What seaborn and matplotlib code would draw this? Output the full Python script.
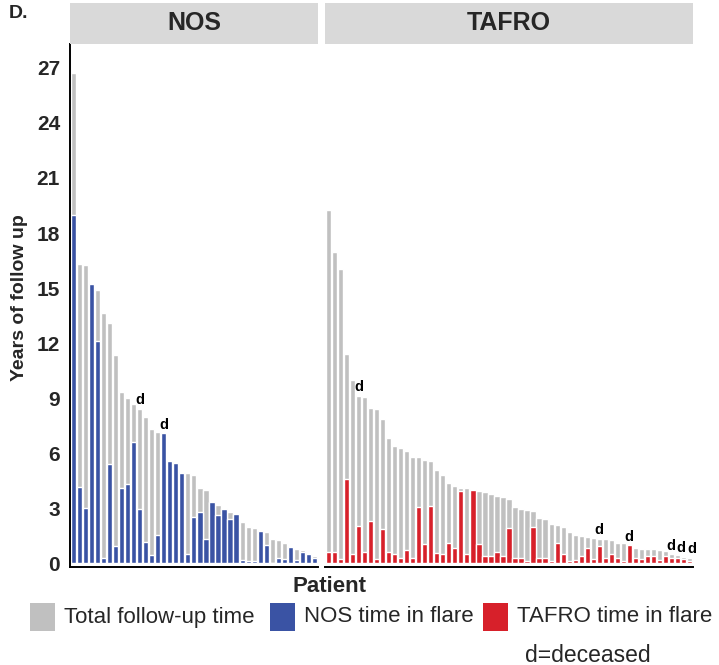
import matplotlib
matplotlib.use("Agg")
import matplotlib.pyplot as plt
from matplotlib.patches import Rectangle
import seaborn as sns
import pandas as pd

# ---- data (years) ----
nos_total = [26.73, 16.31, 16.25, 15.24, 14.91, 13.64, 13.09, 11.36, 9.36, 9.00,
             8.67, 8.42, 7.96, 7.33, 7.15, 7.10, 5.60, 5.45, 4.94, 4.90,
             4.80, 4.13, 3.99, 3.36, 3.16, 3.00, 2.79, 2.70, 2.25, 2.00,
             1.93, 1.76, 1.69, 1.32, 1.27, 1.09, 0.90, 0.80, 0.70, 0.55, 0.40]
nos_flare = [19.00, 4.18, 3.00, 15.24, 12.09, 0.31, 5.40, 0.96, 4.09, 4.33,
             6.63, 2.96, 1.14, 0.45, 1.55, 7.10, 5.60, 5.45, 4.94, 0.50,
             2.52, 2.79, 1.34, 3.36, 2.65, 2.94, 2.39, 2.70, 0.20, 0.15,
             0.15, 1.76, 1.00, 0.00, 0.30, 0.25, 0.90, 0.16, 0.64, 0.53, 0.31]
nos_deceased = [12, 16]

tafro_total = [19.23, 16.94, 16.03, 11.40, 9.98, 9.14, 9.08, 8.47, 8.40, 7.89,
               6.85, 6.38, 6.29, 6.14, 5.80, 5.78, 5.63, 5.59, 5.07, 4.79,
               4.40, 4.21, 4.12, 4.12, 4.05, 3.96, 3.89, 3.78, 3.67, 3.61,
               3.49, 3.08, 2.94, 2.91, 2.85, 2.48, 2.43, 2.14, 2.07, 1.99,
               1.73, 1.55, 1.51, 1.43, 1.40, 1.33, 1.30, 1.27, 1.12, 1.09,
               1.00, 0.85, 0.80, 0.76, 0.76, 0.70, 0.65, 0.50, 0.45, 0.35, 0.30]
tafro_flare = [0.64, 0.64, 0.22, 4.60, 0.49, 2.05, 0.64, 2.30, 0.22, 1.87,
               0.64, 0.53, 0.31, 0.75, 0.31, 3.05, 1.05, 3.12, 0.58, 0.49,
               1.09, 0.81, 3.94, 0.49, 4.00, 1.03, 0.40, 0.40, 0.64, 0.40,
               1.94, 0.27, 0.31, 0.13, 1.99, 0.27, 0.27, 0.13, 1.09, 0.49,
               0.13, 0.16, 0.40, 0.82, 0.22, 0.95, 0.31, 0.49, 0.27, 0.13,
               1.00, 0.31, 0.22, 0.40, 0.40, 0.16, 0.40, 0.31, 0.27, 0.22, 0.13]
tafro_deceased = [6, 46, 51, 58, 60, 61]

panel_names = ["NOS", "TAFRO"]
legend_labels = ["Total follow-up time", "NOS time in flare", "TAFRO time in flare"]
y_ticks = [0, 3, 6, 9, 12, 15, 18, 21, 24, 27]

GRAY = "#c0c0c0"
BLUE = "#3a53a4"
RED = "#d7202a"
STRIP = "#d9d9d9"

sns.set_style("white")
plt.rcParams["font.family"] = ["Liberation Sans", "DejaVu Sans"]

W, H = 719, 665
fig = plt.figure(figsize=(W / 100, H / 100), dpi=100)

ybot, ytop = 567, 44
panels = [
    (69.8, 318.0, nos_total, nos_flare, nos_deceased, BLUE, panel_names[0]),
    (325.0, 693.0, tafro_total, tafro_flare, tafro_deceased, RED, panel_names[1]),
]

for i, (x0, x1, tot, fl, dec, col, name) in enumerate(panels):
    ax = fig.add_axes([x0 / W, 1 - ybot / H, (x1 - x0) / W, (ybot - ytop) / H])
    n = len(tot)
    df = pd.DataFrame({"patient": list(range(1, n + 1)), "total": tot, "flare": fl})
    sns.barplot(data=df, x="patient", y="total", color=GRAY, saturation=1,
                width=0.86, errorbar=None, ax=ax)
    sns.barplot(data=df, x="patient", y="flare", color=col, saturation=1,
                width=0.86, errorbar=None, ax=ax)
    for d in dec:
        nudge = 0.0
        if d + 1 in dec:
            nudge = -0.45
        elif d - 1 in dec:
            nudge = 0.45
        ax.text(d - 1 + nudge, tot[d - 1] + 0.08, "d", ha="center", va="bottom",
                fontsize=10.5, fontweight="bold", color="black")
    ax.set_xlim(-0.6, n - 0.4)
    ax.set_ylim(-0.2, 28.3)
    ax.set_xlabel("")
    ax.set_ylabel("")
    ax.set_xticks(range(n))
    ax.set_xticklabels([])
    ax.tick_params(axis="x", length=4, width=0.8, color="#333333")
    for s in ["top", "right"]:
        ax.spines[s].set_visible(False)
    ax.spines["bottom"].set_color("black")
    ax.spines["bottom"].set_linewidth(1.4)
    if i == 0:
        ax.set_yticks(y_ticks)
        ax.set_yticklabels([str(t) for t in y_ticks], fontsize=15,
                           fontweight="bold")
        ax.tick_params(axis="y", length=4, width=1.2, color="black", pad=3)
        ax.spines["left"].set_color("black")
        ax.spines["left"].set_linewidth(1.4)
    else:
        ax.set_yticks([])
        ax.spines["left"].set_visible(False)
    # facet strip
    fig.patches.append(Rectangle((x0 / W, 1 - 44 / H), (x1 - x0) / W, 41 / H,
                                 transform=fig.transFigure, facecolor=STRIP,
                                 edgecolor="none"))
    fig.text((x0 + x1) / 2 / W, 1 - 23.5 / H, name, ha="center", va="center",
             fontsize=18, fontweight="bold")

fig.text(9 / W, 1 - 13 / H, "D.", ha="left", va="center", fontsize=14,
         fontweight="bold")
fig.text(20 / W, 1 - 298 / H, "Years of follow up", rotation=90, ha="center",
         va="center", fontsize=14, fontweight="bold")
fig.text(330 / W, 1 - 587 / H, "Patient", ha="center", va="center",
         fontsize=16, fontweight="bold")

# legend (drawn as key squares + labels)
legend_colors = [GRAY, BLUE, RED]
key_x = [30, 270, 483]
for kx, c, lab in zip(key_x, legend_colors, legend_labels):
    fig.patches.append(Rectangle((kx / W, 1 - 631 / H), 25 / W, 28 / H,
                                 transform=fig.transFigure, facecolor=c,
                                 edgecolor="none"))
    fig.text((kx + 34) / W, 1 - 617 / H, lab, ha="left", va="center", fontsize=16)
fig.text(588 / W, 1 - 655 / H, "d=deceased", ha="center", va="center",
         fontsize=16.5)

fig.savefig("out.png", dpi=100)
